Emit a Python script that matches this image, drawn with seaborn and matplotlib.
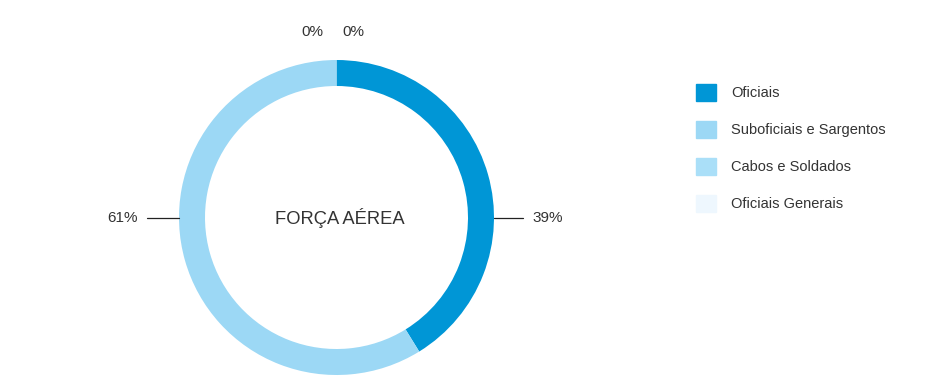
import numpy as np
import matplotlib
matplotlib.use("Agg")
import matplotlib.pyplot as plt
import seaborn as sns

categories = ["Oficiais", "Suboficiais e Sargentos", "Cabos e Soldados", "Oficiais Generais"]
values = [41.2, 58.8, 0, 0]
pct_labels = ["39%", "61%", "0%", "0%"]
colors = ["#0096D6", "#9CD8F5", "#AADFF8", "#EEF7FE"]
center_title = "FORÇA AÉREA"

sns.set_theme(style="white")
plt.rcParams["font.family"] = ["Liberation Sans", "DejaVu Sans"]

W, H = 941, 392
fig = plt.figure(figsize=(W / 100, H / 100), dpi=100)
cx, cy, R = 336.5, 217.5, 157.5
ax = fig.add_axes([(cx - R) / W, (H - cy - R) / H, 2 * R / W, 2 * R / H])

wedges, _ = ax.pie(values, colors=colors, startangle=90, counterclock=False,
                   radius=1, wedgeprops=dict(width=26 / R, linewidth=0))
ax.set_xlim(-1, 1)
ax.set_ylim(-1, 1)
ax.set_aspect("equal")
ax.axis("off")

ax.text(3 / R, 0, center_title, ha="center", va="center", fontsize=13.2, color="#333333")

zero_offsets = [-0.15, 0.11]
line_len = {1: 29, -1: 32}
text_gap = {1: 38, -1: 41}
zi = 0
for w, v, lab in zip(wedges, values, pct_labels):
    if v == 0:
        ax.text(zero_offsets[zi], 1.175, lab, ha="center", va="center",
                fontsize=11, color="#333333", clip_on=False)
        zi += 1
        continue
    mid = np.deg2rad((w.theta1 + w.theta2) / 2)
    side = 1 if np.cos(mid) > 0 else -1
    x0 = side * 1.0
    x1 = side * (1.0 + line_len[side] / R)
    ax.plot([x0, x1], [0, 0], color="#222222", lw=0.9, clip_on=False)
    ax.text(side * (1.0 + text_gap[side] / R), 0, lab, ha="left" if side > 0 else "right",
            va="center", fontsize=11, color="#333333", clip_on=False)

handles = [plt.Rectangle((0, 0), 1, 1, color=c) for c in colors]
fs = 10.5
px = fs * 100 / 72
leg = fig.legend(handles, categories, loc="upper left",
                 bbox_to_anchor=(696 / W, 1 - 84 / H), frameon=False,
                 fontsize=fs, handlelength=20 / px, handleheight=20 / px,
                 handletextpad=15 / px, labelspacing=20.5 / px, borderpad=0,
                 borderaxespad=0)
for t in leg.get_texts():
    t.set_color("#333333")

fig.savefig("out.png", dpi=100)
